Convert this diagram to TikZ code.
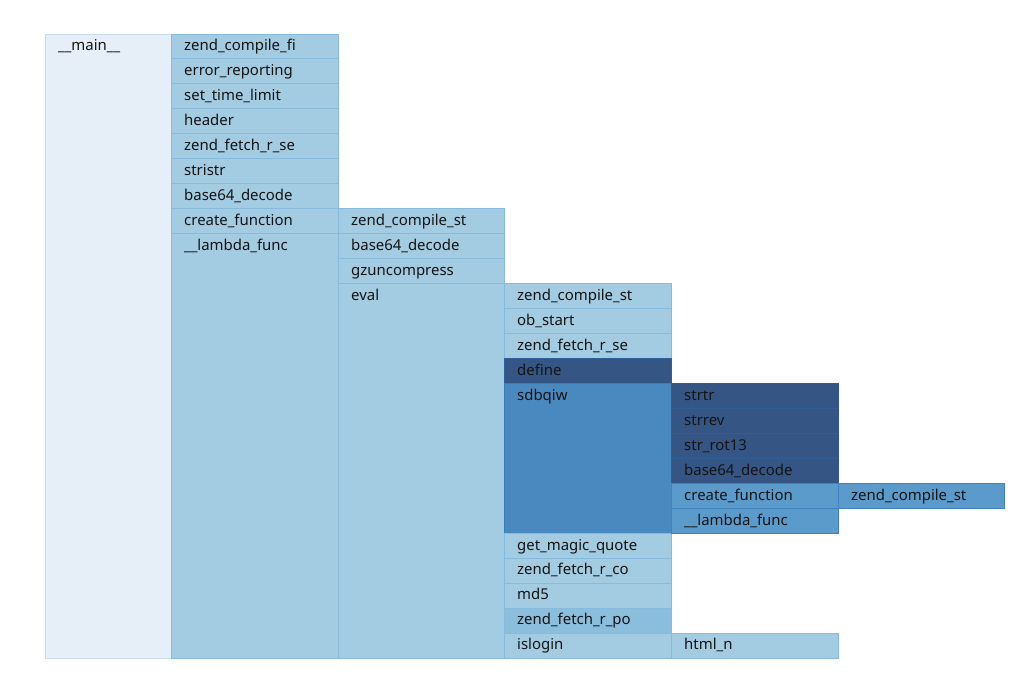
\documentclass[tikz,border=0pt]{standalone}
\usepackage{fontspec}
\setmainfont{Noto Sans}
\definecolor{mainfill}{HTML}{E6EFF7}
\definecolor{mainline}{HTML}{C8DCEE}
\definecolor{lightfill}{HTML}{A3CBE2}
\definecolor{lightline}{HTML}{86BBDD}
\definecolor{pofill}{HTML}{8BBDDC}
\definecolor{darkfill}{HTML}{355584}
\definecolor{darkline}{HTML}{2D5E9A}
\definecolor{midfill}{HTML}{4A89C0}
\definecolor{midline}{HTML}{3B7BB8}
\definecolor{bluefill}{HTML}{5B9BCB}
\definecolor{blueline}{HTML}{3F82BE}
\definecolor{txt}{HTML}{141414}
\tikzset{
  x=0.75pt, y=-0.75pt,
  cellbox/.style={rectangle, inner sep=0pt, outer sep=0pt, line width=0.75pt},
  rootcell/.style={fill=mainfill, draw=mainline},
  lightcell/.style={fill=lightfill, draw=lightline},
  pocell/.style={fill=pofill, draw=lightline},
  darkcell/.style={fill=darkfill, draw=darkline},
  midcell/.style={fill=midfill, draw=midline},
  bluecell/.style={fill=bluefill, draw=blueline},
  celltext/.style={inner sep=0pt, outer sep=0pt, text=txt, font=\fontsize{11.2pt}{13pt}\selectfont},
}
% \cell{name}{left x}{right x}{row}{row count}{style}{text}
\newcommand\cell[7]{%
  \pgfmathsetmacro\cw{(#3-#2)*0.75}%
  \pgfmathsetmacro\ch{#5*24.96*0.75}%
  \node[cellbox,#6,minimum width=\cw pt,minimum height=\ch pt,anchor=north west]
    (#1) at (#2,{34+#4*24.96}) {};%
  \node[celltext,anchor=base west] (#1-t)
    at ([xshift=9.9pt,yshift=-12.6pt]#1.north west) {#7};%
}
\begin{document}
\begin{tikzpicture}
\useasboundingbox (0,0) rectangle (1028,683);
% level 0
\cell{m}{45}{171}{0}{25}{rootcell}{\_\_main\_\_}
% level 1
\cell{a0}{171}{338}{0}{1}{lightcell}{zend\_compile\_fi}
\cell{a1}{171}{338}{1}{1}{lightcell}{error\_reporting}
\cell{a2}{171}{338}{2}{1}{lightcell}{set\_time\_limit}
\cell{a3}{171}{338}{3}{1}{lightcell}{header}
\cell{a4}{171}{338}{4}{1}{lightcell}{zend\_fetch\_r\_se}
\cell{a5}{171}{338}{5}{1}{lightcell}{stristr}
\cell{a6}{171}{338}{6}{1}{lightcell}{base64\_decode}
\cell{a7}{171}{338}{7}{1}{lightcell}{create\_function}
\cell{a8}{171}{338}{8}{17}{lightcell}{\_\_lambda\_func}
% level 2
\cell{b0}{338}{504}{7}{1}{lightcell}{zend\_compile\_st}
\cell{b1}{338}{504}{8}{1}{lightcell}{base64\_decode}
\cell{b2}{338}{504}{9}{1}{lightcell}{gzuncompress}
\cell{b3}{338}{504}{10}{15}{lightcell}{eval}
% level 3
\cell{c0}{504}{671}{10}{1}{lightcell}{zend\_compile\_st}
\cell{c1}{504}{671}{11}{1}{lightcell}{ob\_start}
\cell{c2}{504}{671}{12}{1}{lightcell}{zend\_fetch\_r\_se}
\cell{c3}{504}{671}{13}{1}{darkcell}{define}
\cell{c4}{504}{671}{14}{6}{midcell}{sdbqiw}
\cell{c5}{504}{671}{20}{1}{lightcell}{get\_magic\_quote}
\cell{c6}{504}{671}{21}{1}{lightcell}{zend\_fetch\_r\_co}
\cell{c7}{504}{671}{22}{1}{lightcell}{md5}
\cell{c8}{504}{671}{23}{1}{pocell}{zend\_fetch\_r\_po}
\cell{c9}{504}{671}{24}{1}{lightcell}{islogin}
% level 4
\cell{d0}{671}{838}{14}{1}{darkcell}{strtr}
\cell{d1}{671}{838}{15}{1}{darkcell}{strrev}
\cell{d2}{671}{838}{16}{1}{darkcell}{str\_rot13}
\cell{d3}{671}{838}{17}{1}{darkcell}{base64\_decode}
\cell{d4}{671}{838}{18}{1}{bluecell}{create\_function}
\cell{d5}{671}{838}{19}{1}{bluecell}{\_\_lambda\_func}
\cell{d6}{671}{838}{24}{1}{lightcell}{html\_n}
% level 5
\cell{e0}{838}{1004}{18}{1}{bluecell}{zend\_compile\_st}
\end{tikzpicture}
\end{document}
